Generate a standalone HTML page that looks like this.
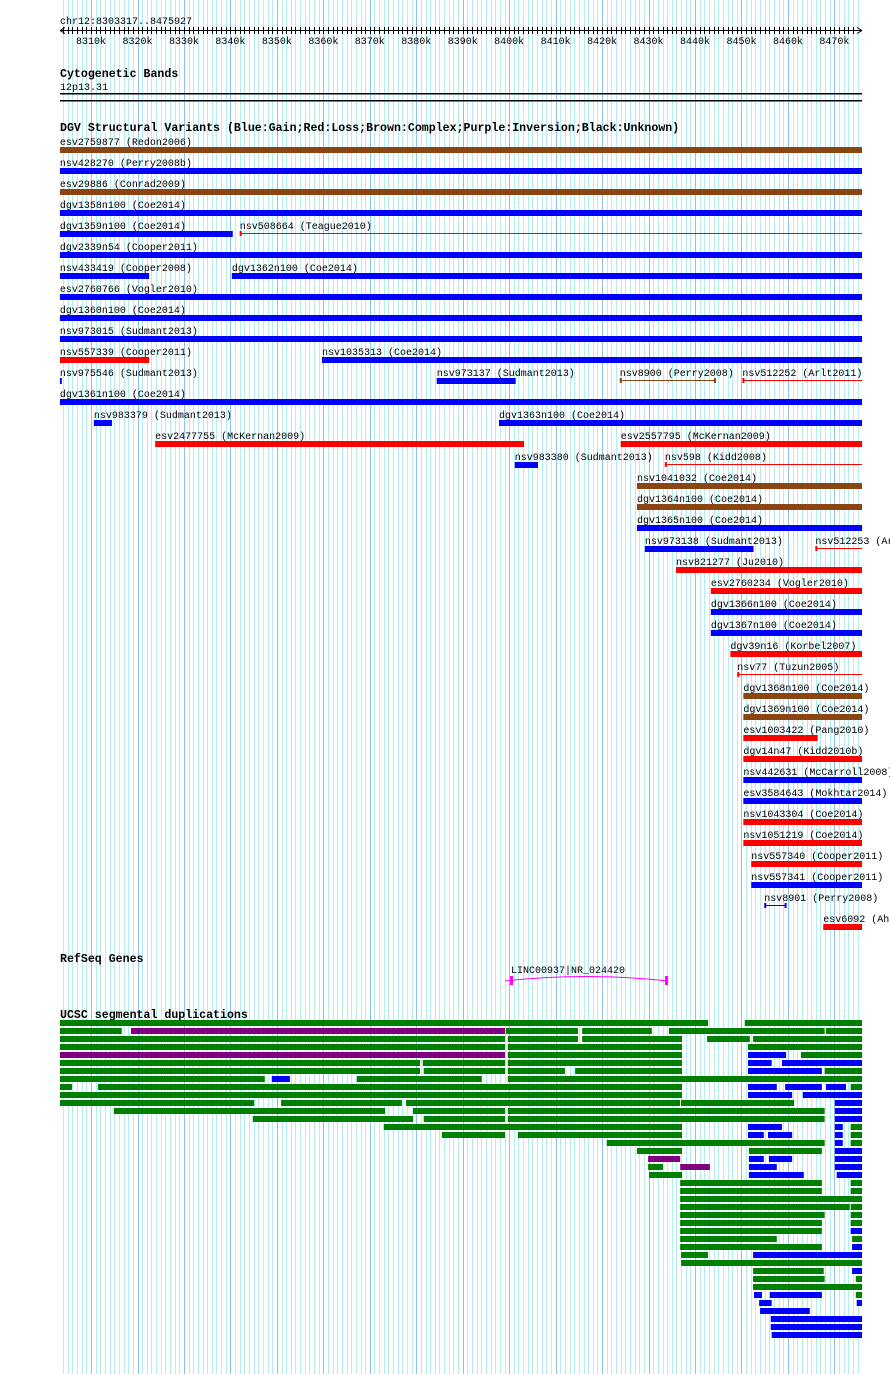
<!DOCTYPE html>
<html><head><meta charset="utf-8"><style>
body{margin:0;background:#fff}
svg{display:block}
text{font-family:"Liberation Mono",monospace;font-size:10px;fill:#000}
.t{font-weight:bold;font-size:11.6px}
</style></head><body>
<svg id="c" width="890" height="1374" viewBox="0 0 890 1374" xmlns="http://www.w3.org/2000/svg">
<g id="grid"></g>
<g id="ruler"></g>
<text x="60" y="24">chr12:8303317..8475927</text>
<text class="t" x="60" y="77">Cytogenetic Bands</text>
<text x="60" y="90">12p13.31</text>
<rect x="60" y="93" width="802" height="1.5" fill="#000"/>
<rect x="60" y="100" width="802" height="1.5" fill="#000"/>
<text class="t" x="60" y="131">DGV Structural Variants (Blue:Gain;Red:Loss;Brown:Complex;Purple:Inversion;Black:Unknown)</text>
<g id="dgv"></g>
<text class="t" x="60" y="962">RefSeq Genes</text>
<g id="gene"></g>
<text class="t" x="60" y="1018">UCSC segmental duplications</text>
<g id="seg"></g>
</svg>
<script>
const viewStart = 8303.317, viewEnd = 8475.927;
const tickLabels = [8310,8320,8330,8340,8350,8360,8370,8380,8390,8400,8410,8420,8430,8440,8450,8460,8470];
// DGV rows: [name, start, end, color, thin]
const dgvRows = [
 [["esv2759877 (Redon2006)",8303.3,8476,"br",0]],
 [["nsv428270 (Perry2008b)",8303.3,8476,"b",0]],
 [["esv29886 (Conrad2009)",8303.3,8476,"br",0]],
 [["dgv1358n100 (Coe2014)",8303.3,8476,"b",0]],
 [["dgv1359n100 (Coe2014)",8303.3,8340.5,"b",0],["nsv508664 (Teague2010)",8342.0,8476,"r",1]],
 [["dgv2339n54 (Cooper2011)",8303.3,8476,"b",0]],
 [["nsv433419 (Cooper2008)",8303.3,8322.5,"b",0],["dgv1362n100 (Coe2014)",8340.3,8476,"b",0]],
 [["esv2760766 (Vogler2010)",8303.3,8476,"b",0]],
 [["dgv1360n100 (Coe2014)",8303.3,8476,"b",0]],
 [["nsv973015 (Sudmant2013)",8303.3,8476,"b",0]],
 [["nsv557339 (Cooper2011)",8303.3,8322.5,"r",0],["nsv1035313 (Coe2014)",8359.7,8476,"b",0]],
 [["nsv975546 (Sudmant2013)",8303.3,8303.7,"b",0],["nsv973137 (Sudmant2013)",8384.4,8401.4,"b",0],["nsv8900 (Perry2008)",8423.8,8444.5,"br",1],["nsv512252 (Arlt2011)",8450.2,8476,"r",1]],
 [["dgv1361n100 (Coe2014)",8303.3,8476,"b",0]],
 [["nsv983379 (Sudmant2013)",8310.6,8314.5,"b",0],["dgv1363n100 (Coe2014)",8397.8,8476,"b",0]],
 [["esv2477755 (McKernan2009)",8323.8,8403.2,"r",0],["esv2557795 (McKernan2009)",8424.0,8476,"r",0]],
 [["nsv983380 (Sudmant2013)",8401.2,8406.2,"b",0],["nsv598 (Kidd2008)",8433.5,8476,"r",1]],
 [["nsv1041032 (Coe2014)",8427.5,8476,"br",0]],
 [["dgv1364n100 (Coe2014)",8427.5,8476,"br",0]],
 [["dgv1365n100 (Coe2014)",8427.5,8476,"b",0]],
 [["nsv973138 (Sudmant2013)",8429.2,8452.6,"b",0],["nsv512253 (Arlt2011)",8465.9,8476,"r",1]],
 [["nsv821277 (Ju2010)",8435.9,8476,"r",0]],
 [["esv2760234 (Vogler2010)",8443.4,8476,"r",0]],
 [["dgv1366n100 (Coe2014)",8443.4,8476,"b",0]],
 [["dgv1367n100 (Coe2014)",8443.4,8476,"b",0]],
 [["dgv39n16 (Korbel2007)",8447.6,8476,"r",0]],
 [["nsv77 (Tuzun2005)",8449.1,8476,"r",1]],
 [["dgv1368n100 (Coe2014)",8450.4,8476,"br",0]],
 [["dgv1369n100 (Coe2014)",8450.4,8476,"br",0]],
 [["esv1003422 (Pang2010)",8450.4,8466.4,"r",0]],
 [["dgv14n47 (Kidd2010b)",8450.4,8476,"r",0]],
 [["nsv442631 (McCarroll2008)",8450.4,8476,"b",0]],
 [["esv3584643 (Mokhtar2014)",8450.4,8476,"b",0]],
 [["nsv1043304 (Coe2014)",8450.4,8476,"r",0]],
 [["nsv1051219 (Coe2014)",8450.4,8476,"r",0]],
 [["nsv557340 (Cooper2011)",8452.1,8476,"r",0]],
 [["nsv557341 (Cooper2011)",8452.1,8476,"b",0]],
 [["nsv8901 (Perry2008)",8454.9,8459.7,"b",1]],
 [["esv6092 (Ahn2009)",8467.6,8476,"r",0]]
];
const geneName = "LINC00937|NR_024420";
const geneStart = 8399.1, geneEnd = 8434.2;
// Segmental duplication rows: [start, end, color]
const segRows = [
 [[8303.3,8442.8,"g"],[8450.7,8476,"g"]],
 [[8303.3,8316.6,"g"],[8318.6,8399.1,"p"],[8399.3,8414.8,"g"],[8415.7,8430.7,"g"],[8434.4,8467.9,"g"],[8468.2,8476,"g"]],
 [[8303.3,8399.1,"g"],[8399.7,8414.8,"g"],[8415.7,8437.2,"g"],[8442.6,8451.8,"g"],[8452.5,8476,"g"]],
 [[8303.3,8399.1,"g"],[8399.7,8437.2,"g"],[8451.4,8476,"g"]],
 [[8303.3,8399.1,"p"],[8399.7,8437.2,"g"],[8451.4,8459.6,"b"],[8462.8,8476,"g"]],
 [[8303.3,8380.8,"g"],[8381.4,8399.1,"g"],[8399.7,8437.2,"g"],[8451.4,8456.5,"b"],[8458.7,8476,"b"]],
 [[8303.3,8380.8,"g"],[8381.6,8399.1,"g"],[8399.7,8412.0,"g"],[8414.2,8437.2,"g"],[8451.4,8467.3,"b"],[8467.9,8476,"g"]],
 [[8303.3,8347.4,"g"],[8348.9,8352.8,"b"],[8367.2,8394.1,"g"],[8399.7,8476,"g"]],
 [[8303.3,8305.9,"g"],[8311.5,8437.2,"g"],[8451.4,8457.6,"b"],[8459.4,8467.3,"b"],[8468.2,8472.5,"b"],[8473.5,8476,"g"]],
 [[8303.3,8437.2,"g"],[8451.4,8460.9,"b"],[8463.2,8476,"b"]],
 [[8303.3,8345.1,"g"],[8350.9,8376.9,"g"],[8377.8,8436.8,"g"],[8437.0,8461.3,"g"],[8470.1,8476,"b"]],
 [[8314.9,8373.3,"g"],[8379.3,8399.1,"g"],[8399.7,8467.9,"g"],[8470.1,8476,"b"]],
 [[8344.8,8379.3,"g"],[8381.6,8399.1,"g"],[8399.7,8467.9,"g"],[8470.1,8476,"b"]],
 [[8373.0,8437.2,"g"],[8451.4,8458.7,"b"],[8470.1,8471.8,"b"],[8473.5,8476,"g"]],
 [[8385.5,8399.1,"g"],[8401.9,8437.2,"g"],[8451.4,8454.8,"b"],[8455.7,8460.9,"b"],[8470.1,8471.8,"b"],[8473.5,8476,"g"]],
 [[8421.0,8467.9,"g"],[8470.1,8471.8,"b"],[8473.5,8476,"g"]],
 [[8427.5,8437.2,"g"],[8451.6,8467.3,"g"],[8470.1,8476,"b"]],
 [[8429.9,8436.8,"p"],[8451.6,8454.8,"b"],[8455.9,8460.9,"b"],[8470.1,8476,"b"]],
 [[8429.9,8433.1,"g"],[8436.8,8443.2,"p"],[8451.6,8457.6,"b"],[8470.1,8476,"b"]],
 [[8430.1,8437.2,"g"],[8451.6,8463.4,"b"],[8470.5,8476,"b"]],
 [[8436.8,8467.3,"g"],[8473.5,8476,"g"]],
 [[8436.8,8467.3,"g"],[8473.5,8476,"g"]],
 [[8436.8,8476,"g"]],
 [[8436.8,8473.3,"g"],[8473.5,8476,"g"]],
 [[8436.8,8467.9,"g"],[8473.5,8476,"g"]],
 [[8436.8,8467.3,"g"],[8473.5,8476,"g"]],
 [[8436.8,8467.3,"g"],[8473.5,8476,"b"]],
 [[8436.8,8457.6,"g"],[8473.8,8476,"g"]],
 [[8436.8,8467.3,"g"],[8473.8,8476,"b"]],
 [[8437.0,8442.8,"g"],[8452.5,8476,"b"]],
 [[8437.0,8476,"g"]],
 [[8452.5,8467.7,"g"],[8473.8,8476,"b"]],
 [[8452.5,8467.9,"g"],[8474.6,8476,"g"]],
 [[8452.5,8476,"g"]],
 [[8452.7,8454.4,"b"],[8456.1,8467.3,"b"],[8474.6,8476,"g"]],
 [[8453.8,8456.5,"b"],[8474.8,8476,"b"]],
 [[8454.0,8464.7,"b"]],
 [[8456.3,8476,"b"]],
 [[8456.3,8476,"b"]],
 [[8456.5,8476,"b"]]
];
const COLORS = {b:"#0000ff", r:"#ff0000", br:"#8b4513", g:"#007f00", p:"#800080"};
const NS = "http://www.w3.org/2000/svg";
const PX_PER_KB = 4.646, X0 = 60, XMAX = 862;
function xs(kb){ return Math.min(XMAX, X0 + (kb - viewStart) * PX_PER_KB); }
function mk(tag, attrs, parent){ const e = document.createElementNS(NS, tag); for (const k in attrs) e.setAttribute(k, attrs[k]); parent.appendChild(e); return e; }

// grid
const grid = document.getElementById('grid');
for (let k = Math.ceil(viewStart); k <= viewEnd; k++) {
  const x = Math.round(xs(k)) + 0.5;
  const ln = mk('line', {x1:x, x2:x, y1:0, y2:1374, stroke: (k % 10 === 0) ? '#8cc4ee' : '#b4eef0', 'stroke-width':1}, grid);
  
  
}
// ruler
const ruler = document.getElementById('ruler');
const base = mk('line', {x1:60, x2:861, y1:30.5, y2:30.5, stroke:'#000'}, ruler);


const ar1 = mk('path', {d:'M60 30.5 l5 -3 M60 30.5 l5 3 M862 30.5 l-5 -3 M862 30.5 l-5 3', stroke:'#000', fill:'none'}, ruler);


for (let k = Math.ceil(viewStart); k <= viewEnd - 1; k++) {
  const x = Math.round(xs(k)) + 0.5;
  const t = mk('line', {x1:x, x2:x, y1:27, y2:34, stroke:'#000'}, ruler);
  
  
}
tickLabels.forEach(k => {
  const t = mk('text', {x: xs(k), y: 44, 'text-anchor':'middle'}, ruler);
  t.textContent = k + 'k';
  
  
});
// DGV
const dgv = document.getElementById('dgv');
dgvRows.forEach((row, i) => {
  const yb = 147 + 21 * i;
  row.forEach(item => {
    const [name, s, e, c, thin] = item;
    const x1 = xs(s), x2 = xs(e), col = COLORS[c];
    const g = mk('g', {}, dgv);
    
    
    const lb = mk('text', {x: x1, y: yb - 2}, g);
    lb.textContent = name;
    if (thin) {
      mk('rect', {x:x1, y:yb+2, width:Math.max(1,x2-x1), height:1, fill:col}, g);
      mk('rect', {x:x1, y:yb, width:2, height:5, fill:col}, g);
      if (x2 < XMAX) mk('rect', {x:x2-2, y:yb, width:2, height:5, fill:col}, g);
    } else {
      mk('rect', {x:x1, y:yb, width:Math.max(1.5,x2-x1), height:6, fill:col}, g);
    }
  });
});
// Gene
const gene = document.getElementById('gene');
const gx1 = xs(geneStart), gx2 = xs(geneEnd);
const gl = mk('text', {x: gx1 + 6, y: 973}, gene);
gl.textContent = geneName;


const gline = mk('path', {d:`M${gx1} 981 Q${(gx1+gx2)/2} 972 ${gx2} 981`, stroke:'#ff00ff', fill:'none'}, gene);


const ex1 = mk('rect', {x:gx1+5, y:976, width:3, height:9, fill:'#ff00ff'}, gene);


const ex2 = mk('rect', {x:gx2-3, y:976, width:3, height:9, fill:'#ff00ff'}, gene);


// Seg dups
const seg = document.getElementById('seg');
segRows.forEach((row, i) => {
  const y = 1020 + 8 * i;
  row.forEach(([s, e, c]) => {
    const r = mk('rect', {x: xs(s), y: y, width: Math.max(1, xs(e) - xs(s)), height: 6, fill: COLORS[c]}, seg);
    
    
  });
});
</script>
</body></html>
